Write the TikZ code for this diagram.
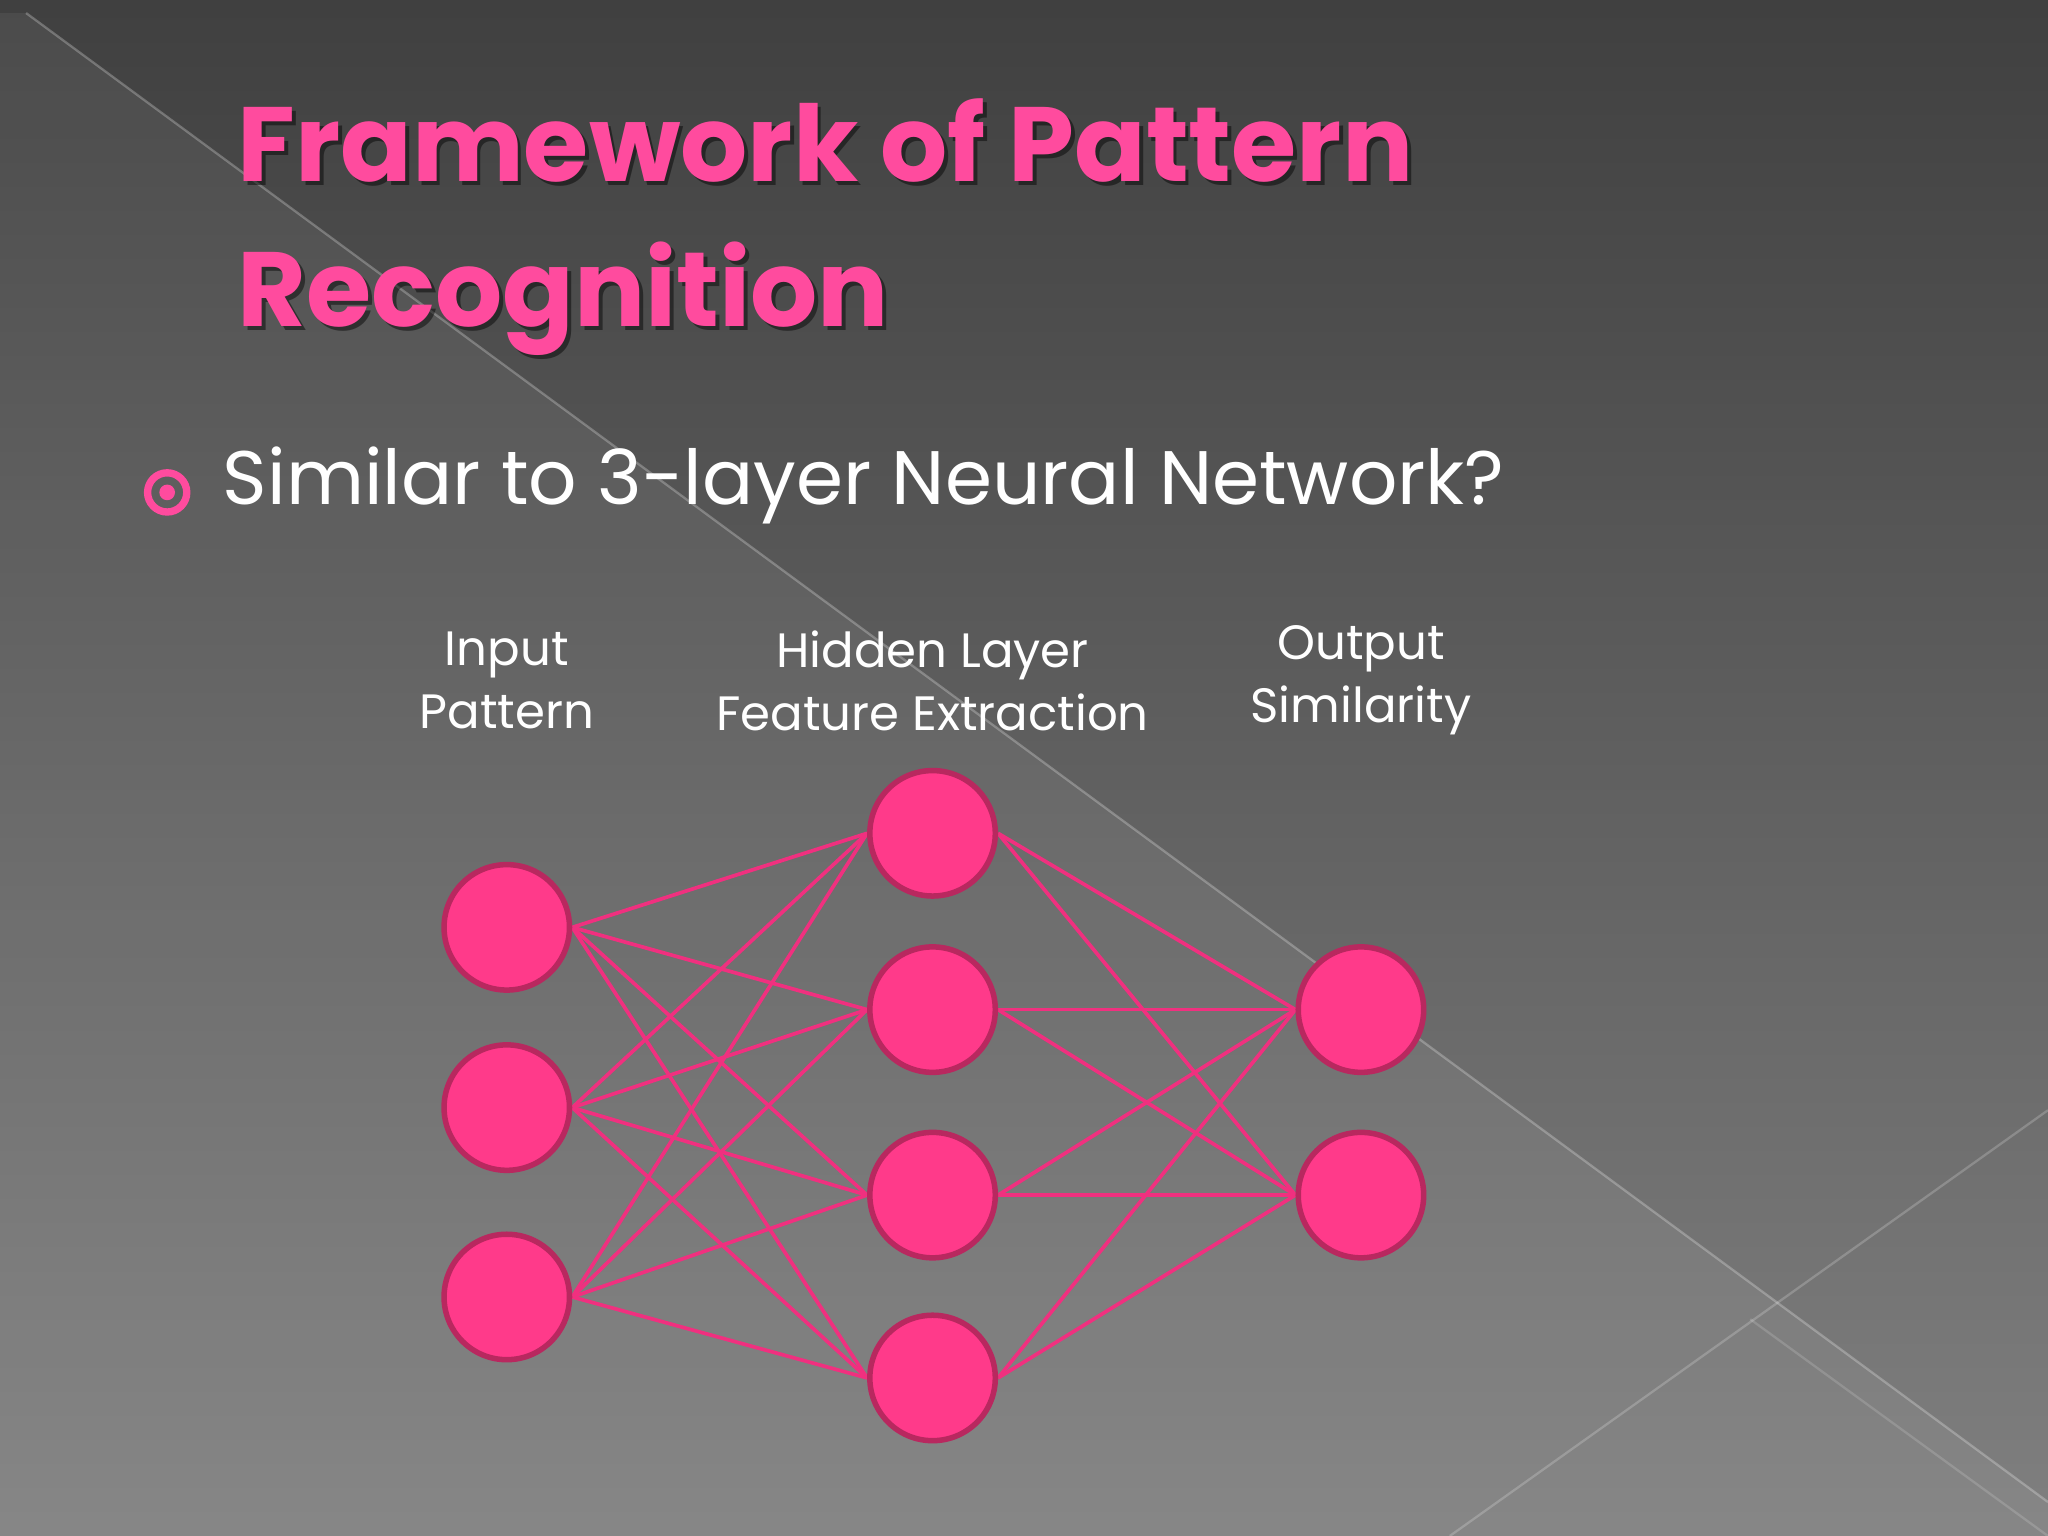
\documentclass[tikz,border=0pt]{standalone}
\usepackage{fontspec}
\setmainfont{Poppins}
\pgfdeclarelayer{bg}
\pgfsetlayers{bg,main}
\begin{document}
\begin{tikzpicture}[x=0.01cm,y=-0.01cm,
  neuron/.style={circle,draw=pinkedge,line width=1.2pt,fill=pinkfill,minimum size=0.96cm,inner sep=0pt},
  conn/.style={draw=pinkline,line width=0.8pt},
  lbl/.style={text=white,font=\fontsize{10.5}{13.7}\selectfont,align=center}]
\definecolor{pinkfill}{HTML}{FF3A8A}
\definecolor{pinkedge}{HTML}{B8285F}
\definecolor{pinkline}{HTML}{F0307F}
\definecolor{titlepink}{HTML}{FF4B9E}
\useasboundingbox (0,0) rectangle (1568,1176);
\begin{pgfonlayer}{bg}
\shade[top color=black!75,bottom color=black!50] (0,0) rectangle (1568,1176);
\fill[white,opacity=0.06] (20,10) -- (1568,1150) -- (1568,1176) -- (0,1176) -- (0,10) -- cycle;
\draw[white,opacity=0.25,line width=0.5pt] (20,10) -- (1568,1150);
\draw[white,opacity=0.2,line width=0.5pt] (1110,1176) -- (1568,850);
\draw[white,opacity=0.15,line width=0.5pt] (1340,1010) -- (1568,1176);
\end{pgfonlayer}
% title
\node[anchor=north west,text=black,opacity=0.45,font=\fontsize{23}{31.5}\selectfont\bfseries,align=left,inner sep=0pt] (tshadow) at (184,78) {Framework of Pattern\\Recognition};
\node[anchor=north west,text=titlepink,font=\fontsize{23}{31.5}\selectfont\bfseries,align=left,inner sep=0pt] (title) at (181,75) {Framework of Pattern\\Recognition};
% bullet
\node[circle,draw=titlepink,line width=1.6pt,minimum size=0.3cm,inner sep=0pt] (bul) at (128,377) {};
\fill[titlepink] (bul) circle (6);
\node[anchor=west,text=white,font=\fontsize{16.5}{20}\selectfont,inner sep=0pt] (sub) at (170,372) {Similar to 3-layer Neural Network?};
% labels
\node[lbl] (l1) at (388,521) {Input\\Pattern};
\node[lbl] (l2) at (714,521) {Hidden Layer\\Feature Extraction};
\node[lbl] (l3) at (1042,521) {Output\\Similarity};
% neurons
\foreach \n/\y in {1/710,2/848,3/993} \node[neuron] (i\n) at (388,\y) {};
\foreach \n/\y in {1/638,2/773,3/915,4/1055} \node[neuron] (h\n) at (714,\y) {};
\foreach \n/\y in {1/773,2/915} \node[neuron] (o\n) at (1042,\y) {};
\begin{pgfonlayer}{bg}
\foreach \a in {1,2,3} \foreach \b in {1,2,3,4} \draw[conn] (i\a.east) -- (h\b.west);
\foreach \a in {1,2,3,4} \foreach \b in {1,2} \draw[conn] (h\a.east) -- (o\b.west);
\end{pgfonlayer}
\end{tikzpicture}
\end{document}
